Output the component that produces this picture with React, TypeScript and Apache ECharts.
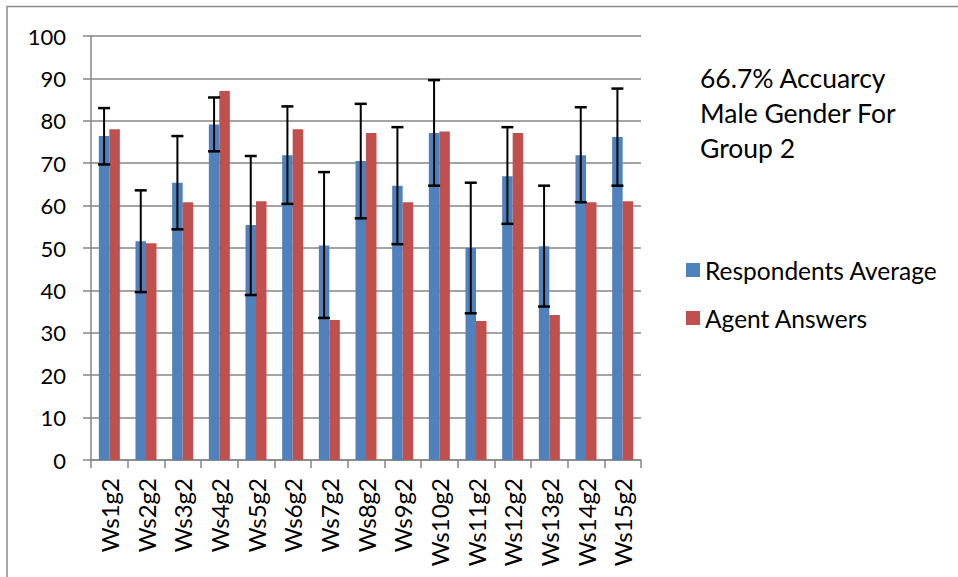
import React, { useEffect, useRef } from "react";
import * as echarts from "echarts";

const categories = ["Ws1g2", "Ws2g2", "Ws3g2", "Ws4g2", "Ws5g2", "Ws6g2", "Ws7g2", "Ws8g2", "Ws9g2", "Ws10g2", "Ws11g2", "Ws12g2", "Ws13g2", "Ws14g2", "Ws15g2"];
const respondentsAverage = [76.4, 51.6, 65.4, 79.1, 55.4, 71.9, 50.6, 70.5, 64.7, 77.1, 50.0, 66.9, 50.4, 71.9, 76.2];
const agentAnswers = [78.0, 51.1, 60.8, 87.0, 61.0, 78.0, 33.0, 77.1, 60.8, 77.5, 32.8, 77.1, 34.2, 60.8, 61.0];
const errorHigh = [83.0, 63.6, 76.4, 85.5, 71.7, 83.4, 67.9, 84.0, 78.5, 89.6, 65.4, 78.5, 64.7, 83.2, 87.6];
const errorLow = [69.7, 39.6, 54.4, 72.8, 38.9, 60.4, 33.5, 57.0, 50.9, 64.7, 34.6, 55.7, 36.2, 60.8, 64.7];
const yTicks = [0, 10, 20, 30, 40, 50, 60, 70, 80, 90, 100];

const FONT = "Lato";
const GRID_COLOR = "#868686";
const CAT_GAP = 0.427;

export default function App() {
  const ref = useRef<HTMLDivElement>(null);
  useEffect(() => {
    if (!ref.current) return;
    const chart = echarts.init(ref.current, null, { renderer: "svg" });
    chart.setOption({
      animation: false,
      backgroundColor: "#fff",
      textStyle: { fontFamily: FONT },
      title: {
        text: "66.7% Accuarcy\nMale Gender For\nGroup 2",
        left: 700,
        top: 60,
        padding: 0,
        textStyle: { fontFamily: FONT, fontSize: 26.5, fontWeight: "normal", color: "#000", lineHeight: 35 },
      },
      legend: {
        orient: "vertical",
        left: 686,
        top: 257,
        padding: 0,
        itemWidth: 14,
        itemHeight: 14,
        itemGap: 22,
        icon: "rect",
        data: ["Respondents Average", "Agent Answers"],
        textStyle: { fontFamily: FONT, fontSize: 24.5, color: "#000", lineHeight: 26 },
      },
      graphic: [
        {
          type: "rect",
          shape: { x: 7, y: 6.5, width: 1200, height: 1200 },
          style: { fill: "none", stroke: "#8c8c8c", lineWidth: 1.5 },
          silent: true,
        },
      ],
      grid: { left: 91, top: 36, width: 550, height: 424, containLabel: false },
      xAxis: {
        type: "category",
        data: categories,
        axisLine: { lineStyle: { color: GRID_COLOR, width: 1.5 } },
        axisTick: { show: true, length: 8, lineStyle: { color: GRID_COLOR, width: 1.5 } },
        axisLabel: { rotate: 90, margin: 18, fontFamily: FONT, fontSize: 24, color: "#000", interval: 0 },
        splitLine: { show: false },
      },
      yAxis: {
        type: "value",
        min: 0,
        max: 100,
        interval: 10,
        axisLine: { show: true, lineStyle: { color: GRID_COLOR, width: 1.5 } },
        axisTick: { show: true, length: 8, lineStyle: { color: GRID_COLOR, width: 1.5 } },
        axisLabel: {
          margin: 25,
          fontFamily: FONT,
          fontSize: 22,
          color: "#000",
          formatter: (v: number) => (yTicks.includes(v) ? String(v) : ""),
        },
        splitLine: { show: true, lineStyle: { color: GRID_COLOR, width: 1.5 } },
      },
      series: [
        {
          name: "Respondents Average",
          type: "bar",
          data: respondentsAverage,
          barGap: "0%",
          barCategoryGap: CAT_GAP * 100 + "%",
          itemStyle: { color: "#4F81BD" },
        },
        {
          name: "Agent Answers",
          type: "bar",
          data: agentAnswers,
          barGap: "0%",
          barCategoryGap: CAT_GAP * 100 + "%",
          itemStyle: { color: "#C0504D" },
        },
        {
          name: "Error",
          type: "custom",
          z: 5,
          data: categories.map((_, i) => [i, errorLow[i], errorHigh[i]]),
          encode: { x: 0, y: [1, 2] },
          renderItem: (params: any, api: any) => {
            const idx = api.value(0);
            const pLow = api.coord([idx, api.value(1)]);
            const pHigh = api.coord([idx, api.value(2)]);
            const band = api.size([1, 0])[0];
            const barW = (band * (1 - CAT_GAP)) / 2;
            const cx = pLow[0] - barW / 2;
            const cap = 6;
            const style = { stroke: "#000", lineWidth: 2 };
            return {
              type: "group",
              children: [
                { type: "line", shape: { x1: cx, y1: pLow[1], x2: cx, y2: pHigh[1] }, style },
                { type: "line", shape: { x1: cx - cap, y1: pHigh[1], x2: cx + cap, y2: pHigh[1] }, style: { stroke: "#000", lineWidth: 2.5 } },
                { type: "line", shape: { x1: cx - cap, y1: pLow[1], x2: cx + cap, y2: pLow[1] }, style: { stroke: "#000", lineWidth: 2.5 } },
              ],
            };
          },
        },
      ],
    });
    return () => chart.dispose();
  }, []);
  return <div ref={ref} style={{ position: "fixed", left: 0, top: 0, width: 958, height: 577 }} />;
}
